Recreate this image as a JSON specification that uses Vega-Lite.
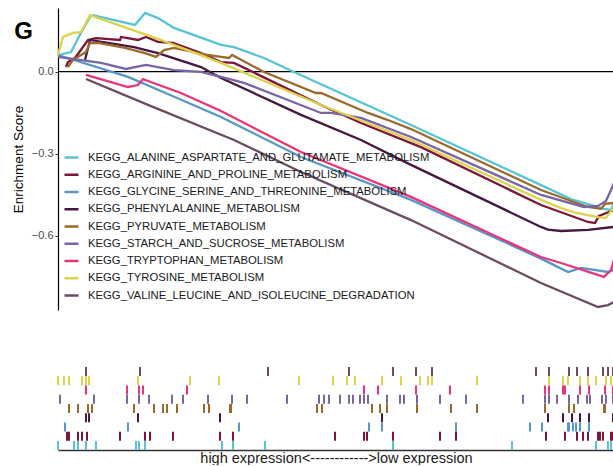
{
  "$schema": "https://vega.github.io/schema/vega-lite/v6.json",
  "background": "white",
  "padding": {"left": 11, "top": 8, "right": 0, "bottom": 0},
  "config": {"font": "Liberation Sans", "view": {"stroke": null}, "axis": {"grid": false}},
  "datasets": {
    "sets": [
      {"id": "A", "pathway": "KEGG_ALANINE_ASPARTATE_AND_GLUTAMATE_METABOLISM"},
      {"id": "R", "pathway": "KEGG_ARGININE_AND_PROLINE_METABOLISM"},
      {"id": "G", "pathway": "KEGG_GLYCINE_SERINE_AND_THREONINE_METABOLISM"},
      {"id": "F", "pathway": "KEGG_PHENYLALANINE_METABOLISM"},
      {"id": "P", "pathway": "KEGG_PYRUVATE_METABOLISM"},
      {"id": "S", "pathway": "KEGG_STARCH_AND_SUCROSE_METABOLISM"},
      {"id": "T", "pathway": "KEGG_TRYPTOPHAN_METABOLISM"},
      {"id": "Y", "pathway": "KEGG_TYROSINE_METABOLISM"},
      {"id": "V", "pathway": "KEGG_VALINE_LEUCINE_AND_ISOLEUCINE_DEGRADATION"}
    ],
    "zero": [{"es": 0}],
    "curves": [
      {"id":"A","x":0,"es":0.061},{"id":"A","x":13,"es":0.072},{"id":"A","x":23,"es":0.142},{"id":"A","x":32,"es":0.200},{"id":"A","x":35,"es":0.207},{"id":"A","x":77,"es":0.171},{"id":"A","x":87,"es":0.215},{"id":"A","x":100,"es":0.196},{"id":"A","x":116,"es":0.160},{"id":"A","x":163,"es":0.098},{"id":"A","x":176,"es":0.090},{"id":"A","x":206,"es":0.050},{"id":"A","x":236,"es":-0.001},{"id":"A","x":353,"es":-0.195},{"id":"A","x":483,"es":-0.415},{"id":"A","x":513,"es":-0.466},{"id":"A","x":546,"es":-0.502},{"id":"A","x":553,"es":-0.506},{"id":"A","x":556,"es":-0.480},
      {"id":"R","x":8,"es":0.017},{"id":"R","x":10,"es":0.035},{"id":"R","x":17,"es":0.050},{"id":"R","x":30,"es":0.116},{"id":"R","x":38,"es":0.123},{"id":"R","x":62,"es":0.116},{"id":"R","x":63,"es":0.127},{"id":"R","x":80,"es":0.116},{"id":"R","x":88,"es":0.127},{"id":"R","x":100,"es":0.109},{"id":"R","x":115,"es":0.105},{"id":"R","x":143,"es":0.068},{"id":"R","x":163,"es":0.035},{"id":"R","x":176,"es":0.032},{"id":"R","x":263,"es":-0.122},{"id":"R","x":303,"es":-0.188},{"id":"R","x":363,"es":-0.276},{"id":"R","x":483,"es":-0.488},{"id":"R","x":530,"es":-0.550},{"id":"R","x":537,"es":-0.554},{"id":"R","x":541,"es":-0.528},{"id":"R","x":556,"es":-0.506},
      {"id":"G","x":0,"es":0.061},{"id":"G","x":70,"es":-0.019},{"id":"G","x":100,"es":-0.066},{"id":"G","x":163,"es":-0.166},{"id":"G","x":243,"es":-0.312},{"id":"G","x":353,"es":-0.469},{"id":"G","x":483,"es":-0.684},{"id":"G","x":510,"es":-0.733},{"id":"G","x":523,"es":-0.718},{"id":"G","x":550,"es":-0.733},{"id":"G","x":556,"es":-0.726},
      {"id":"F","x":27,"es":0.043},{"id":"F","x":32,"es":0.116},{"id":"F","x":50,"es":0.105},{"id":"F","x":76,"es":0.090},{"id":"F","x":100,"es":0.068},{"id":"F","x":143,"es":0.017},{"id":"F","x":163,"es":-0.023},{"id":"F","x":243,"es":-0.158},{"id":"F","x":303,"es":-0.250},{"id":"F","x":353,"es":-0.341},{"id":"F","x":483,"es":-0.568},{"id":"F","x":490,"es":-0.578},{"id":"F","x":503,"es":-0.583},{"id":"F","x":530,"es":-0.579},{"id":"F","x":556,"es":-0.568},
      {"id":"P","x":10,"es":0.017},{"id":"P","x":15,"es":0.043},{"id":"P","x":28,"es":0.072},{"id":"P","x":32,"es":0.105},{"id":"P","x":40,"es":0.105},{"id":"P","x":67,"es":0.087},{"id":"P","x":87,"es":0.068},{"id":"P","x":98,"es":0.054},{"id":"P","x":106,"es":0.079},{"id":"P","x":116,"es":0.087},{"id":"P","x":150,"es":0.061},{"id":"P","x":163,"es":0.054},{"id":"P","x":171,"es":0.050},{"id":"P","x":174,"es":0.061},{"id":"P","x":206,"es":-0.001},{"id":"P","x":258,"es":-0.078},{"id":"P","x":263,"es":-0.078},{"id":"P","x":310,"es":-0.151},{"id":"P","x":330,"es":-0.177},{"id":"P","x":353,"es":-0.210},{"id":"P","x":483,"es":-0.433},{"id":"P","x":530,"es":-0.495},{"id":"P","x":543,"es":-0.502},{"id":"P","x":547,"es":-0.484},{"id":"P","x":556,"es":-0.480},
      {"id":"S","x":0,"es":0.054},{"id":"S","x":43,"es":0.032},{"id":"S","x":68,"es":0.010},{"id":"S","x":88,"es":0.025},{"id":"S","x":116,"es":0.006},{"id":"S","x":143,"es":-0.001},{"id":"S","x":163,"es":-0.019},{"id":"S","x":186,"es":-0.041},{"id":"S","x":263,"es":-0.151},{"id":"S","x":273,"es":-0.151},{"id":"S","x":303,"es":-0.169},{"id":"S","x":353,"es":-0.239},{"id":"S","x":483,"es":-0.451},{"id":"S","x":526,"es":-0.495},{"id":"S","x":540,"es":-0.491},{"id":"S","x":548,"es":-0.473},{"id":"S","x":553,"es":-0.433},{"id":"S","x":556,"es":-0.407},
      {"id":"T","x":28,"es":-0.012},{"id":"T","x":70,"es":-0.056},{"id":"T","x":80,"es":-0.049},{"id":"T","x":85,"es":-0.027},{"id":"T","x":90,"es":-0.034},{"id":"T","x":123,"es":-0.078},{"id":"T","x":163,"es":-0.144},{"id":"T","x":243,"es":-0.294},{"id":"T","x":353,"es":-0.458},{"id":"T","x":446,"es":-0.616},{"id":"T","x":483,"es":-0.678},{"id":"T","x":503,"es":-0.700},{"id":"T","x":546,"es":-0.751},{"id":"T","x":553,"es":-0.726},{"id":"T","x":556,"es":-0.689},
      {"id":"Y","x":0,"es":0.061},{"id":"Y","x":5,"es":0.127},{"id":"Y","x":15,"es":0.142},{"id":"Y","x":23,"es":0.145},{"id":"Y","x":32,"es":0.207},{"id":"Y","x":100,"es":0.120},{"id":"Y","x":163,"es":0.032},{"id":"Y","x":263,"es":-0.122},{"id":"Y","x":353,"es":-0.250},{"id":"Y","x":483,"es":-0.469},{"id":"Y","x":503,"es":-0.499},{"id":"Y","x":518,"es":-0.517},{"id":"Y","x":540,"es":-0.532},{"id":"Y","x":548,"es":-0.535},{"id":"Y","x":553,"es":-0.510},{"id":"Y","x":556,"es":-0.495},
      {"id":"V","x":28,"es":-0.027},{"id":"V","x":93,"es":-0.126},{"id":"V","x":176,"es":-0.250},{"id":"V","x":243,"es":-0.367},{"id":"V","x":353,"es":-0.543},{"id":"V","x":483,"es":-0.773},{"id":"V","x":540,"es":-0.861},{"id":"V","x":550,"es":-0.854},{"id":"V","x":556,"es":-0.843}
    ],
    "hits": [
      {"id":"V","x":28},{"id":"V","x":82},{"id":"V","x":210},{"id":"V","x":291},{"id":"V","x":335},{"id":"V","x":358},{"id":"V","x":374},{"id":"V","x":478},{"id":"V","x":491},{"id":"V","x":511},{"id":"V","x":519},{"id":"V","x":530},{"id":"V","x":545},{"id":"V","x":550},{"id":"V","x":555},
      {"id":"Y","x":0},{"id":"Y","x":6},{"id":"Y","x":11},{"id":"Y","x":24},{"id":"Y","x":28},{"id":"Y","x":31},{"id":"Y","x":80},{"id":"Y","x":132},{"id":"Y","x":161},{"id":"Y","x":241},{"id":"Y","x":275},{"id":"Y","x":289},{"id":"Y","x":297},{"id":"Y","x":324},{"id":"Y","x":343},{"id":"Y","x":362},{"id":"Y","x":370},{"id":"Y","x":374},{"id":"Y","x":419},{"id":"Y","x":491},{"id":"Y","x":505},{"id":"Y","x":510},{"id":"Y","x":522},{"id":"Y","x":530},{"id":"Y","x":538},{"id":"Y","x":548},{"id":"Y","x":553},
      {"id":"T","x":28},{"id":"T","x":69},{"id":"T","x":81},{"id":"T","x":85},{"id":"T","x":129},{"id":"T","x":306},{"id":"T","x":320},{"id":"T","x":358},{"id":"T","x":392},{"id":"T","x":487},{"id":"T","x":491},{"id":"T","x":505},{"id":"T","x":507},{"id":"T","x":522},{"id":"T","x":531},{"id":"T","x":547},{"id":"T","x":555},
      {"id":"S","x":2},{"id":"S","x":36},{"id":"S","x":69},{"id":"S","x":81},{"id":"S","x":91},{"id":"S","x":114},{"id":"S","x":125},{"id":"S","x":150},{"id":"S","x":174},{"id":"S","x":189},{"id":"S","x":229},{"id":"S","x":261},{"id":"S","x":266},{"id":"S","x":271},{"id":"S","x":282},{"id":"S","x":291},{"id":"S","x":295},{"id":"S","x":302},{"id":"S","x":306},{"id":"S","x":310},{"id":"S","x":329},{"id":"S","x":342},{"id":"S","x":346},{"id":"S","x":359},{"id":"S","x":382},{"id":"S","x":408},{"id":"S","x":465},{"id":"S","x":487},{"id":"S","x":491},{"id":"S","x":499},{"id":"S","x":511},{"id":"S","x":520},{"id":"S","x":529},{"id":"S","x":532},{"id":"S","x":544},{"id":"S","x":548},{"id":"S","x":555},
      {"id":"P","x":11},{"id":"P","x":20},{"id":"P","x":30},{"id":"P","x":34},{"id":"P","x":76},{"id":"P","x":96},{"id":"P","x":105},{"id":"P","x":109},{"id":"P","x":119},{"id":"P","x":146},{"id":"P","x":151},{"id":"P","x":172},{"id":"P","x":173},{"id":"P","x":259},{"id":"P","x":264},{"id":"P","x":314},{"id":"P","x":322},{"id":"P","x":329},{"id":"P","x":359},{"id":"P","x":393},{"id":"P","x":419},{"id":"P","x":487},{"id":"P","x":511},{"id":"P","x":516},{"id":"P","x":546},{"id":"P","x":547},
      {"id":"F","x":28},{"id":"F","x":31},{"id":"F","x":80},{"id":"F","x":162},{"id":"F","x":324},{"id":"F","x":490},{"id":"F","x":505},{"id":"F","x":514},{"id":"F","x":522},{"id":"F","x":531},{"id":"F","x":555},
      {"id":"G","x":7},{"id":"G","x":70},{"id":"G","x":181},{"id":"G","x":311},{"id":"G","x":324},{"id":"G","x":398},{"id":"G","x":472},{"id":"G","x":484},{"id":"G","x":510},{"id":"G","x":511},{"id":"G","x":515},{"id":"G","x":518},{"id":"G","x":522},{"id":"G","x":531},
      {"id":"R","x":9},{"id":"R","x":11},{"id":"R","x":20},{"id":"R","x":24},{"id":"R","x":29},{"id":"R","x":62},{"id":"R","x":87},{"id":"R","x":92},{"id":"R","x":115},{"id":"R","x":162},{"id":"R","x":175},{"id":"R","x":277},{"id":"R","x":306},{"id":"R","x":309},{"id":"R","x":335},{"id":"R","x":382},{"id":"R","x":398},{"id":"R","x":488},{"id":"R","x":507},{"id":"R","x":519},{"id":"R","x":525},{"id":"R","x":530},{"id":"R","x":540},{"id":"R","x":542},{"id":"R","x":545},{"id":"R","x":553},{"id":"R","x":555},
      {"id":"A","x":0},{"id":"A","x":16},{"id":"A","x":20},{"id":"A","x":28},{"id":"A","x":38},{"id":"A","x":78},{"id":"A","x":81},{"id":"A","x":87},{"id":"A","x":164},{"id":"A","x":175},{"id":"A","x":207},{"id":"A","x":335},{"id":"A","x":454},{"id":"A","x":538},{"id":"A","x":550},{"id":"A","x":553}
    ]
  },
  "spacing": 55,
  "resolve": {"scale": {"color": "independent"}},
  "vconcat": [
    {
      "width": 556,
      "height": 302,
      "title": {"text": "G", "anchor": "start", "frame": "bounds", "fontSize": 24, "fontWeight": "bold", "color": "#000000", "offset": -36, "dx": 3},
      "layer": [
        {
          "data": {"name": "zero"},
          "mark": {"type": "rule", "color": "#000000", "strokeWidth": 1.2},
          "encoding": {
            "y": {"field": "es", "type": "quantitative", "scale": {"domain": [-0.872, 0.233], "nice": false, "zero": false},
              "axis": {"values": [0, -0.3, -0.6], "format": ".1f", "title": "Enrichment Score", "titleFontSize": 13.5, "titleFontWeight": "normal", "titleColor": "#000000", "titlePadding": 6, "labelFontSize": 11, "labelColor": "#4D4D4D", "labelPadding": 2, "tickColor": "#333333", "tickSize": 3, "domainColor": "#000000", "domainWidth": 1.2}}
          }
        },
        {
          "data": {"name": "curves"},
          "transform": [{"lookup": "id", "from": {"data": {"name": "sets"}, "key": "id", "fields": ["pathway"]}}],
          "mark": {"type": "line", "strokeWidth": 2.3},
          "encoding": {
            "x": {"field": "x", "type": "quantitative", "scale": {"domain": [0, 556], "nice": false, "zero": false}, "axis": null},
            "y": {"field": "es", "type": "quantitative", "scale": {"domain": [-0.872, 0.233], "nice": false, "zero": false},
              "axis": {"values": [0, -0.3, -0.6], "format": ".1f", "title": "Enrichment Score", "titleFontSize": 13.5, "titleFontWeight": "normal", "titleColor": "#000000", "titlePadding": 6, "labelFontSize": 11, "labelColor": "#4D4D4D", "labelPadding": 2, "tickColor": "#333333", "tickSize": 3, "domainColor": "#000000", "domainWidth": 1.2}},
            "color": {
              "field": "pathway", "type": "nominal",
              "scale": {
                "domain": ["KEGG_ALANINE_ASPARTATE_AND_GLUTAMATE_METABOLISM", "KEGG_ARGININE_AND_PROLINE_METABOLISM", "KEGG_GLYCINE_SERINE_AND_THREONINE_METABOLISM", "KEGG_PHENYLALANINE_METABOLISM", "KEGG_PYRUVATE_METABOLISM", "KEGG_STARCH_AND_SUCROSE_METABOLISM", "KEGG_TRYPTOPHAN_METABOLISM", "KEGG_TYROSINE_METABOLISM", "KEGG_VALINE_LEUCINE_AND_ISOLEUCINE_DEGRADATION"],
                "range": ["#56C4D4", "#7D1638", "#5896C8", "#46173F", "#9B6A2A", "#7965A4", "#E83478", "#DCD24B", "#6A4B60"]
              },
              "legend": {"title": null, "orient": "none", "legendX": 5, "legendY": 141, "symbolType": "stroke", "symbolSize": 196, "symbolStrokeWidth": 2.5, "labelFontSize": 11.3, "labelColor": "#1A1A1A", "labelOffset": 8, "rowPadding": 3.25, "labelLimit": 0, "padding": 0}
            }
          }
        }
      ]
    },
    {
      "width": 556,
      "height": 83,
      "data": {"name": "hits"},
      "transform": [{"lookup": "id", "from": {"data": {"name": "sets"}, "key": "id", "fields": ["pathway"]}}],
      "mark": {"type": "tick", "thickness": 2, "size": 9, "opacity": 1},
      "encoding": {
        "x": {"field": "x", "type": "quantitative", "scale": {"domain": [0, 556], "nice": false, "zero": false},
          "axis": {"title": "high expression<------------>low expression", "labels": false, "ticks": false, "domainColor": "#333333", "domainWidth": 1.6, "titleFontSize": 14.5, "titleFontWeight": "normal", "titleColor": "#1A1A1A", "titlePadding": 1}},
        "y": {"field": "pathway", "type": "nominal", "sort": "descending", "axis": null, "scale": {"paddingInner": 0, "paddingOuter": 0}},
        "color": {
          "field": "pathway", "type": "nominal",
          "scale": {
            "domain": ["KEGG_ALANINE_ASPARTATE_AND_GLUTAMATE_METABOLISM", "KEGG_ARGININE_AND_PROLINE_METABOLISM", "KEGG_GLYCINE_SERINE_AND_THREONINE_METABOLISM", "KEGG_PHENYLALANINE_METABOLISM", "KEGG_PYRUVATE_METABOLISM", "KEGG_STARCH_AND_SUCROSE_METABOLISM", "KEGG_TRYPTOPHAN_METABOLISM", "KEGG_TYROSINE_METABOLISM", "KEGG_VALINE_LEUCINE_AND_ISOLEUCINE_DEGRADATION"],
            "range": ["#56C4D4", "#7D1638", "#5896C8", "#46173F", "#9B6A2A", "#7965A4", "#E83478", "#DCD24B", "#6A4B60"]
          },
          "legend": null
        }
      }
    }
  ]
}
